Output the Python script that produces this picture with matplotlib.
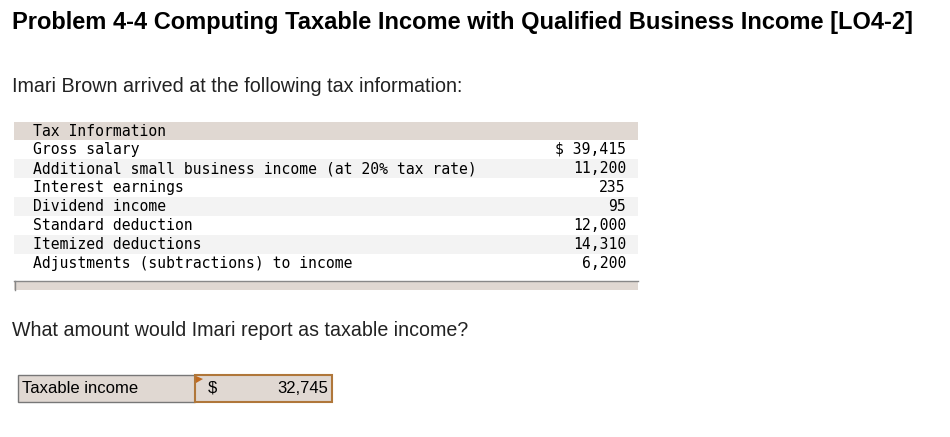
import matplotlib.pyplot as plt
from matplotlib.patches import Rectangle, Polygon

title = "Problem 4-4 Computing Taxable Income with Qualified Business Income [LO4-2]"
intro = "Imari Brown arrived at the following tax information:"
header = "Tax Information"
labels = ["Gross salary", "Additional small business income (at 20% tax rate)",
          "Interest earnings", "Dividend income", "Standard deduction",
          "Itemized deductions", "Adjustments (subtractions) to income"]
values = ["$ 39,415", "11,200", "235", "95", "12,000", "14,310", "6,200"]
question = "What amount would Imari report as taxable income?"
answer_label = "Taxable income"
answer_value = "32,745"

band = "#e0d8d2"
fig = plt.figure(figsize=(9.5, 4.37), dpi=100)
ax = fig.add_axes([0, 0, 1, 1])
ax.set_xlim(0, 950)
ax.set_ylim(437, 0)
ax.axis("off")

sans = "Liberation Sans"
mono = "DejaVu Sans Mono"

ax.text(12, 22, title, fontsize=17, fontweight="bold", family=sans, va="center")
ax.text(12, 86, intro, fontsize=14.2, family=sans, va="center", color="#222222")

# table
ax.add_patch(Rectangle((14, 122), 624, 17.5, color=band, lw=0))
ax.text(33, 131, header, family=mono, fontsize=10.6, va="center")
for i, (lab, val) in enumerate(zip(labels, values)):
    y = 149.5 + i * 19
    if i % 2 == 1:
        ax.add_patch(Rectangle((14, y - 9.5), 624, 19, color="#f3f3f3", lw=0))
    ax.text(33, y, lab, family=mono, fontsize=10.6, va="center")
    ax.text(626, y, val, family=mono, fontsize=10.6, va="center", ha="right")
ax.add_patch(Rectangle((14, 281), 624, 9, color=band, lw=0))
ax.plot([14, 638], [281, 281], color="#888888", lw=1)
ax.plot([14.5, 14.5], [281, 290], color="#888888", lw=1)

ax.text(12, 331, question, fontsize=14.1, family=sans, va="center", color="#222222")

# answer box
ax.add_patch(Rectangle((18, 375), 177, 27, facecolor=band, edgecolor="#777777", lw=1))
ax.text(22, 388.5, answer_label, fontsize=12, family=sans, va="center")
ax.add_patch(Rectangle((195, 375), 137, 27, facecolor=band, edgecolor="#b0773a", lw=1.5))
ax.add_patch(Polygon([(196, 376), (203, 379), (196, 383)], color="#c06a20", lw=0))
ax.text(208, 388.5, "$", fontsize=12, family=sans, va="center")
ax.text(328, 388.5, answer_value, fontsize=12, family=sans, va="center", ha="right")

fig.savefig("out.png", dpi=100, facecolor="white")
